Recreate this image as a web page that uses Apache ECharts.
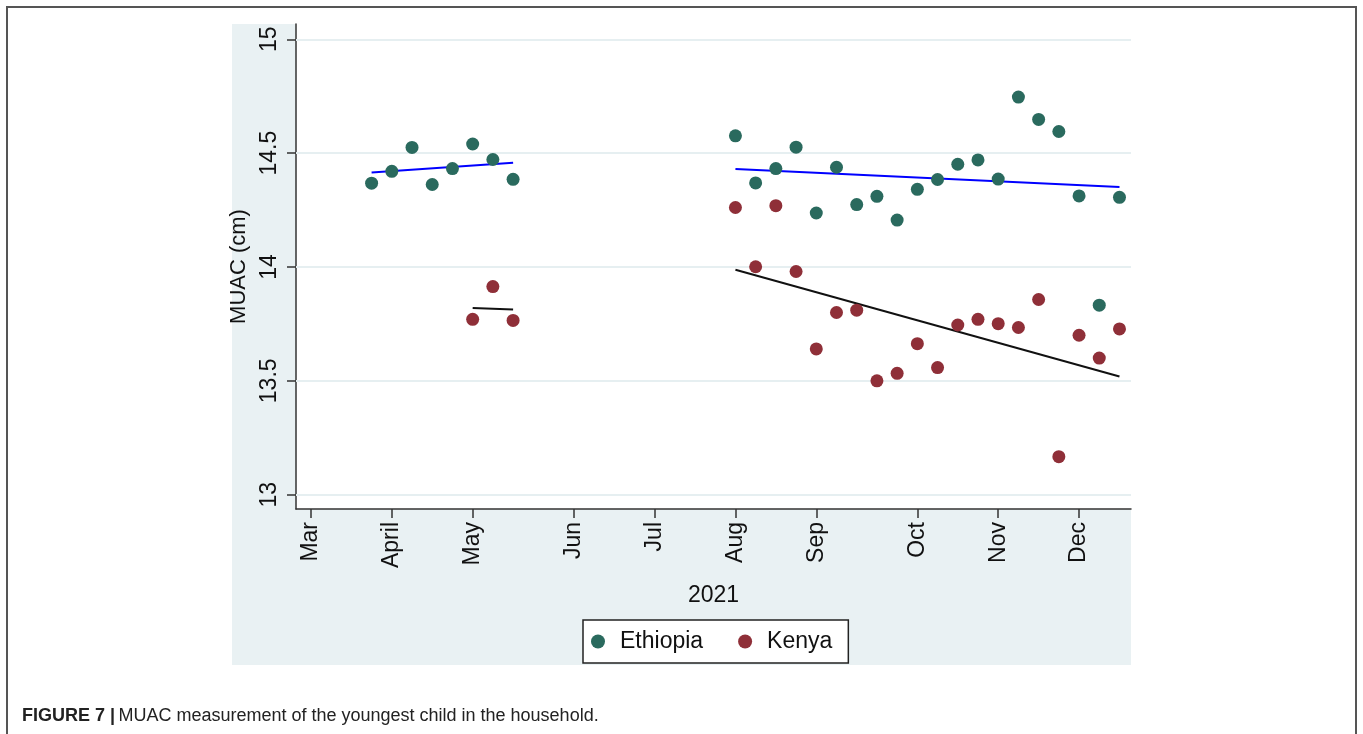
<!DOCTYPE html>
<html>
<head>
<meta charset="utf-8">
<script src="https://cdn.jsdelivr.net/npm/echarts@6/dist/echarts.min.js"></script>
<style>
  html, body { margin: 0; padding: 0; background: #fff; }
  #chart { width: 1363px; height: 734px; }
</style>
</head>
<body>
<div id="chart"></div>
<script>
// x is a week index (Stata-style weekly axis), labelled by month
let monthWeeks = [9, 13, 17, 22, 26, 30, 34, 39, 43, 47];
let monthNames = ["Mar", "April", "May", "Jun", "Jul", "Aug", "Sep", "Oct", "Nov", "Dec"];
let yTicks = [13, 13.5, 14, 14.5, 15];

let ethWeeks = [12, 13, 14, 15, 16, 17, 18, 19,
    30, 31, 32, 33, 34, 35, 36, 37, 38, 39, 40, 41, 42, 43, 44, 45, 46, 47, 48, 49];
let ethMuac = [14.368, 14.42, 14.525, 14.362, 14.432, 14.54, 14.472, 14.385,
    14.576, 14.369, 14.432, 14.526, 14.237, 14.438, 14.274, 14.31, 14.206, 14.341,
    14.384, 14.451, 14.47, 14.386, 14.746, 14.648, 14.595, 14.312, 13.832, 14.306];

let kenWeeks = [17, 18, 19,
    30, 31, 32, 33, 34, 35, 36, 37, 38, 39, 40, 41, 42, 43, 44, 45, 46, 47, 48, 49];
let kenMuac = [13.77, 13.914, 13.765,
    14.261, 14.001, 14.269, 13.98, 13.64, 13.8, 13.81, 13.5, 13.533, 13.663,
    13.558, 13.745, 13.77, 13.751, 13.734, 13.857, 13.167, 13.7, 13.6, 13.728];

// fitted lines: [startWeek, startValue, endWeek, endValue]
let ethFitA = [12, 14.415, 19, 14.458];
let ethFitB = [30, 14.43, 49, 14.351];
let kenFitA = [17, 13.82, 19, 13.813];
let kenFitB = [30, 13.988, 49, 13.519];

function pairs(xs, ys) {
    return xs.map((x, i) => [x, ys[i]]);
}
function seg(f) {
    return [[f[0], f[1]], [f[2], f[3]]];
}

const ETH = "#2a6a5e";
const KEN = "#8f2f38";
const AXIS = "#333";
const FONT = "Liberation Sans";
const CAPFONT = "'Liberation Sans Narrow', 'Liberation Sans', sans-serif";

function fitLine(f, color) {
    return {
        type: "line",
        data: seg(f),
        symbol: "none",
        silent: true,
        lineStyle: { color: color, width: 2 },
        z: 3
    };
}

var myChart = echarts.init(document.getElementById("chart"));
myChart.setOption({
    animation: false,
    textStyle: { fontFamily: FONT },
    graphic: [
        {
            type: "rect", z: -10, silent: true,
            shape: { x: 7, y: 7, width: 1349, height: 760 },
            style: { fill: "#fff", stroke: "#555", lineWidth: 2 }
        },
        {
            type: "rect", z: -9, silent: true,
            shape: { x: 232, y: 24, width: 899, height: 641 },
            style: { fill: "#e9f1f3" }
        },
        {
            type: "text", left: 22, top: 707, z: 10,
            style: {
                text: "{b|FIGURE 7 |} {r|MUAC measurement of the youngest child in the household.}",
                rich: {
                    b: { fontFamily: CAPFONT, fontWeight: "bold", fontSize: 18, fill: "#222" },
                    r: { fontFamily: CAPFONT, fontSize: 18, fill: "#222" }
                }
            }
        }
    ],
    grid: {
        left: 296, top: 24, right: 232, bottom: 225,
        show: true, backgroundColor: "#fff", borderWidth: 0
    },
    legend: {
        data: ["Ethiopia", "Kenya"],
        left: 583, top: 620,
        orient: "horizontal",
        backgroundColor: "#fff",
        borderColor: "#222",
        borderWidth: 1.5,
        borderRadius: 0,
        padding: [10, 16, 10, 8],
        itemGap: 35,
        itemWidth: 14,
        itemHeight: 14,
        icon: "circle",
        textStyle: { fontFamily: FONT, fontSize: 23, color: "#111", padding: [0, 0, 0, 10] }
    },
    xAxis: {
        type: "value",
        min: 8.26,
        max: 49.57,
        name: "2021",
        nameLocation: "middle",
        nameGap: 75,
        nameTextStyle: { fontFamily: FONT, fontSize: 23, color: "#111" },
        axisLine: { lineStyle: { color: AXIS, width: 1.5 } },
        axisTick: { show: true, length: 9, customValues: monthWeeks, lineStyle: { color: AXIS, width: 1.5 } },
        axisLabel: {
            customValues: monthWeeks,
            rotate: 90,
            margin: 13,
            fontFamily: FONT,
            fontSize: 23,
            color: "#111",
            formatter: v => monthNames[monthWeeks.indexOf(Math.round(v))] || ""
        },
        splitLine: { show: false }
    },
    yAxis: {
        type: "value",
        min: 12.937,
        max: 15.067,
        name: "MUAC (cm)",
        nameLocation: "middle",
        nameGap: 37,
        nameRotate: 90,
        nameTextStyle: { fontFamily: FONT, fontSize: 22, color: "#111" },
        axisLine: { show: true, lineStyle: { color: AXIS, width: 1.5 } },
        axisTick: { show: true, length: 9, customValues: yTicks, lineStyle: { color: AXIS, width: 1.5 } },
        axisLabel: {
            customValues: yTicks,
            rotate: 90,
            margin: 15,
            fontFamily: FONT,
            fontSize: 23,
            color: "#111",
            formatter: v => String(v)
        },
        splitLine: { show: false }
    },
    series: [
        {
            name: "Ethiopia",
            type: "scatter",
            data: pairs(ethWeeks, ethMuac),
            symbolSize: 13,
            itemStyle: { color: ETH, opacity: 1 },
            z: 4,
            markLine: {
                silent: true,
                symbol: "none",
                label: { show: false },
                lineStyle: { color: "#e6eff1", width: 2, type: "solid" },
                data: yTicks.map(v => ({ yAxis: v })),
                z: 1
            }
        },
        {
            name: "Kenya",
            type: "scatter",
            data: pairs(kenWeeks, kenMuac),
            symbolSize: 13,
            itemStyle: { color: KEN, opacity: 1 },
            z: 4
        },
        fitLine(ethFitA, "#0000ff"),
        fitLine(ethFitB, "#0000ff"),
        fitLine(kenFitA, "#111"),
        fitLine(kenFitB, "#111")
    ]
});
</script>
</body>
</html>
